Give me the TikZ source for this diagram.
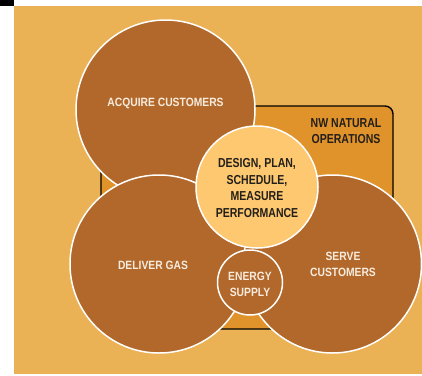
\documentclass[tikz,border=0pt]{standalone}
\usepackage{fontspec}
\setmainfont{Liberation Sans}
\newfontfamily\lightcond[FakeStretch=0.86]{Liberation Sans}
\newfontfamily\darkcond[FakeStretch=0.81]{Liberation Sans}
\definecolor{pagebg}{HTML}{EBB155}
\definecolor{brown}{HTML}{B1682A}
\definecolor{corefill}{HTML}{FDC86F}
\definecolor{opsfill}{HTML}{E1932B}
\definecolor{lighttext}{HTML}{F8ECDF}
\definecolor{darktext}{HTML}{231F1A}
\tikzset{
  bubble/.style={circle, draw=white, line width=1.5pt, fill=brown, inner sep=0pt},
  lightlabel/.style={text=lighttext, align=center, inner sep=0pt,
    font=\lightcond\bfseries\fontsize{12}{16.5}\selectfont},
  darklabel/.style={text=darktext, align=center, inner sep=0pt,
    font=\darkcond\bfseries\fontsize{13}{16.5}\selectfont},
}
\begin{document}
\begin{tikzpicture}[x=1pt, y=-1pt]
  % page and background panel
  \fill[white] (0,0) rectangle (422,375);
  \useasboundingbox (0,0) rectangle (422,375);
  \fill[black] (0,0) rectangle (14,5.5);
  \fill[pagebg] (14,6) rectangle (422,374);

  % operations panel behind the circles
  \node[draw=black, line width=1.4pt, fill=opsfill, rounded corners=8pt,
        minimum width=292pt, minimum height=223pt, inner sep=0pt]
        (ops) at (247,217.5) {};
  \node[darklabel] (opsText) at (346,131) {NW NATURAL\\OPERATIONS};

  % outer process circles
  \node[bubble, minimum size=179pt] (acquire) at (165.5,109.5) {};
  \node[bubble, minimum size=178pt] (deliver) at (159,264) {};
  \node[bubble, minimum size=178pt] (serve) at (332.5,264) {};

  % central circles
  \node[bubble, fill=corefill, minimum size=122pt] (core) at (257,187) {};
  \node[bubble, minimum size=65pt] (supply) at (250,282.5) {};

  % labels
  \node[lightlabel] (acquireText) at (165.5,103.5) {ACQUIRE CUSTOMERS};
  \node[lightlabel] (deliverText) at (153,265.7) {DELIVER GAS};
  \node[lightlabel] (serveText) at (343,264.3) {SERVE\\CUSTOMERS};
  \node[lightlabel] (supplyText) at (250,284.2) {ENERGY\\SUPPLY};
  \node[darklabel] (coreText) at (257,188) {DESIGN, PLAN,\\SCHEDULE,\\MEASURE\\PERFORMANCE};
\end{tikzpicture}
\end{document}
